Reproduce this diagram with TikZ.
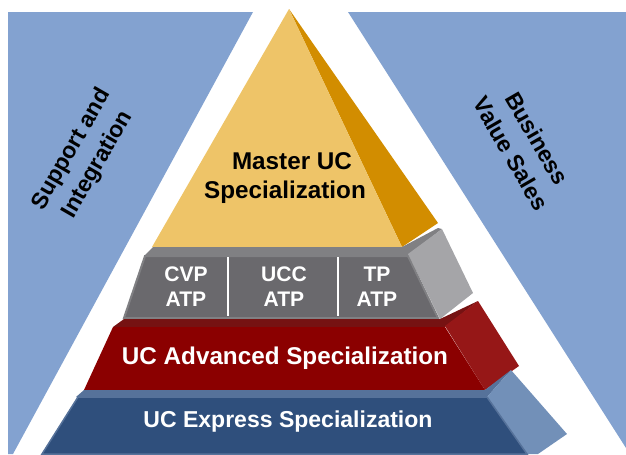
\documentclass[tikz,border=0pt]{standalone}
\usepackage{fontspec}
\setmainfont{Liberation Sans}
\definecolor{panelblue}{HTML}{83A2D0}
\definecolor{masterfront}{HTML}{EEC468}
\definecolor{masterside}{HTML}{D28D00}
\definecolor{atpfront}{HTML}{6A696D}
\definecolor{atpedge}{HTML}{808083}
\definecolor{atpside}{HTML}{A5A5A8}
\definecolor{advfront}{HTML}{8B0000}
\definecolor{advedge}{HTML}{761212}
\definecolor{advside}{HTML}{961717}
\definecolor{expfront}{HTML}{2F4F7C}
\definecolor{expedge}{HTML}{56729A}
\definecolor{expside}{HTML}{7290B8}
\tikzset{
	tierlabel/.style={font=\bfseries\fontsize{#1}{16}\selectfont, text=white, align=center, inner sep=0pt},
	atplabel/.style={font=\bfseries\fontsize{12}{14.2}\selectfont, text=white, align=center, inner sep=0pt},
	sidelabel/.style={font=\bfseries\fontsize{13.1}{17.2}\selectfont, text=black, align=center, inner sep=0pt},
	masterlabel/.style={font=\bfseries\fontsize{13.8}{16}\selectfont, text=black, align=center, inner sep=0pt}
}

\begin{document}
\begin{tikzpicture}[x=0.02cm, y=-0.02cm]
		%%%%% START %%%%%
		\useasboundingbox (0, 0) rectangle (626, 454);
		
		\fill[panelblue] (8, 12) -- (253, 12) -- (13, 454) -- (8, 454) -- cycle;
		\fill[panelblue] (348, 12) -- (626, 12) -- (626, 448) -- cycle;
		
		\fill[masterside] (289, 9) -- (438, 223) -- (402, 247) -- cycle;
		\fill[masterfront] (289, 9) -- (402, 247) -- (152, 247) -- cycle;
		
		\fill[atpedge] (153, 247) -- (402, 247) -- (438, 228) -- (442, 229) -- (408, 255) -- (145, 255) -- cycle;
		\fill[atpside] (408, 254) -- (442, 229) -- (473, 293) -- (440, 319) -- cycle;
		\draw[atpedge, fill=atpfront, line width=0.4mm] (145, 256) -- (408, 256) -- (438, 318) -- (124, 318) -- cycle;
		\draw[white, line width=0.3mm] (228, 257) -- (228, 316);
		\draw[white, line width=0.3mm] (338, 257) -- (338, 316);
		
		\fill[advedge] (124, 319) -- (440, 319) -- (478, 301) -- (445, 327) -- (113, 327) -- cycle;
		\fill[advside] (445, 326) -- (478, 301) -- (519, 366) -- (485, 390) -- cycle;
		\fill[advfront] (113, 327) -- (445, 327) -- (485, 390) -- (84, 390) -- cycle;
		
		\fill[expedge] (84, 390) -- (485, 390) -- (511, 370) -- (487, 397) -- (76, 397) -- cycle;
		\fill[expside] (487, 397) -- (511, 370) -- (567, 434) -- (538, 454) -- (527, 454) -- cycle;
		\draw[expedge, fill=expfront, line width=0.3mm] (78, 397) -- (487, 397) -- (527, 454) -- (42, 454) -- cycle;
		
		\node[sidelabel] (support) at (85, 157) [rotate=60] {Support and\\Integration};
		\node[sidelabel] (business) at (524, 146) [rotate=-60] {Business\\Value Sales};
		\node[masterlabel] (master) at (285, 178) {\hspace*{0.28cm}Master UC\\Specialization};
		
		\node[atplabel] (cvp) at (186, 287) {CVP\\ATP};
		\node[atplabel] (ucc) at (284, 287) {UCC\\ATP};
		\node[atplabel] (tp) at (377, 287) {TP\\ATP};
		
		\node[tierlabel=13.8] (advanced) at (285, 358) {UC Advanced Specialization};
		\node[tierlabel=13.1] (express) at (288, 422) {UC Express Specialization};
		%%%%% END %%%%%
	\end{tikzpicture}
\end{document}
